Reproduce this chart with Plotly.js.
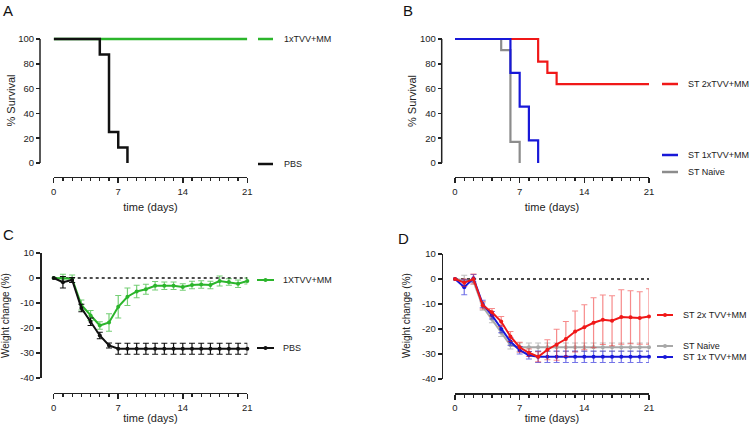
<!DOCTYPE html>
<html><head><meta charset="utf-8">
<script src="https://cdn.plot.ly/plotly-3.0.1.min.js"></script>
<style>html,body{margin:0;padding:0;background:#fff}#chart{width:750px;height:424px}</style>
</head><body><div id="chart"></div><script>
// ---- Panel A: survival ----
const daysA_PBS = [0, 5, 6, 7, 8];
const survA_PBS = [100, 87.5, 25, 12.5, 0];
const daysA_TVV = [0, 21];
const survA_TVV = [100, 100];
// ---- Panel B: survival ----
const daysB_2x = [0, 9, 10, 11, 21];
const survB_2x = [100, 81.8, 72.7, 63.6, 63.6];
const daysB_1x = [0, 6, 7, 8, 9];
const survB_1x = [100, 72.7, 45.5, 18.2, 0];
const daysB_naive = [0, 5, 6, 7];
const survB_naive = [100, 91, 17, 0];
// ---- Panels C, D: weight change ----
const days = [0,1,2,3,4,5,6,7,8,9,10,11,12,13,14,15,16,17,18,19,20,21];
const wC_TVV = [0, 0, -0.3, -10.8, -15, -19, -17.8, -11.5, -7.5, -5.4, -4.5, -3.1, -3.1, -3.1, -3.6, -2.8, -2.6, -2.8, -1.2, -1.6, -2.3, -1.2];
const eC_TVV = [0, 1.5, 1.5, 2, 2, 1.5, 3.5, 4.5, 3.5, 2.5, 2, 1.7, 1.5, 1.5, 1.3, 1.5, 1.5, 1.5, 2, 1.3, 1.5, 1.2];
const wC_PBS = [0, -1.7, -0.8, -12, -17.5, -23, -27, -28.3, -28.3, -28.3, -28.3, -28.3, -28.3, -28.3, -28.3, -28.3, -28.3, -28.3, -28.3, -28.3, -28.3, -28.3];
const eC_PBS = [0, 2.3, 1, 1.5, 1.5, 1.3, 1, 2.2, 2.2, 2.2, 2.2, 2.2, 2.2, 2.2, 2.2, 2.2, 2.2, 2.2, 2.2, 2.2, 2.2, 2.2];
const wD_2x = [0, -1.5, 0, -10.5, -13.3, -17, -23, -27.3, -29.5, -31.1, -28.3, -26.3, -24, -21, -19.3, -17.5, -16.3, -16.7, -15.2, -15.3, -15.6, -15];
const eD_2x = [0, 1.5, 2, 1.5, 1.5, 2, 2, 2, 1.5, 2, 4, 6.2, 7, 8.2, 9, 10, 9.9, 10, 10.9, 10.6, 10.5, 11.1];
const wD_naive = [0, -0.5, -1, -11, -16, -21.5, -26.5, -27.3, -27.3, -27.3, -27.3, -27.3, -27.3, -27.3, -27.3, -27.3, -27.3, -27.3, -27.3, -27.3, -27.3, -27.3];
const eD_naive = [0, 2, 1, 1.5, 1.5, 1.5, 1.5, 1.7, 1.7, 1.7, 1.7, 1.7, 1.7, 1.7, 1.7, 1.7, 1.7, 1.7, 1.7, 1.7, 1.7, 1.7];
const wD_1x = [0, -3.3, 0.3, -10, -14.5, -20, -25, -28.5, -30.5, -31.1, -31.1, -31.1, -31.1, -31.1, -31.1, -31.1, -31.1, -31.1, -31.1, -31.1, -31.1, -31.1];
const eD_1x = [0, 3, 1.5, 1.5, 1.5, 1.5, 1.5, 1.5, 1.5, 2.3, 2.3, 2.3, 2.3, 2.3, 2.3, 2.3, 2.3, 2.3, 2.3, 2.3, 2.3, 2.3];

const xTicks = [0, 7, 14, 21];
const survTicks = [0, 20, 40, 60, 80, 100];
const weightTicks = [-40, -30, -20, -10, 0, 10];
const weightTickText = ['-40', '-30', '-20', '-10', '0', '10'];

const GREEN = '#2bb52b', BLACK = '#111111', RED = '#f01818', BLUE = '#1818d8', GREY_B = '#8c8c8c', GREY_D = '#a8a8a8';
const FONT = 'Liberation Sans, Arial, sans-serif';
const AX = '#222';
const W = 750, H = 424;
const X = px => px / W;
const Y = py => 1 - py / H;

function surv(x, y, color, xa, ya, w) {
  return {x, y, xaxis: xa, yaxis: ya, mode: 'lines', cliponaxis: false, showlegend: false,
          line: {shape: 'hv', color, width: w}, hoverinfo: 'skip'};
}
function weight(x, y, e, color, ecolor, xa, ya) {
  return {x, y, xaxis: xa, yaxis: ya, mode: 'lines+markers', cliponaxis: false, showlegend: false,
          line: {color, width: 2}, marker: {color, size: 4},
          error_y: {type: 'data', array: e, visible: true, color: ecolor, thickness: 1.2, width: 3}};
}

const traces = [
  surv(daysA_TVV, survA_TVV, GREEN, 'x', 'y', 2.5),
  surv(daysA_PBS, survA_PBS, BLACK, 'x', 'y', 2.5),
  surv(daysB_2x, survB_2x, RED, 'x2', 'y2', 2.2),
  surv(daysB_naive, survB_naive, GREY_B, 'x2', 'y2', 2.2),
  surv(daysB_1x, survB_1x, BLUE, 'x2', 'y2', 2.2),
  weight(days, wC_TVV, eC_TVV, GREEN, 'rgba(43,181,43,0.65)', 'x3', 'y3'),
  weight(days, wC_PBS, eC_PBS, BLACK, BLACK, 'x3', 'y3'),
  weight(days, wD_naive, eD_naive, GREY_D, 'rgba(150,150,150,0.6)', 'x4', 'y4'),
  weight(days, wD_1x, eD_1x, BLUE, 'rgba(24,24,216,0.6)', 'x4', 'y4'),
  weight(days, wD_2x, eD_2x, RED, 'rgba(240,24,24,0.5)', 'x4', 'y4'),
];

function xAxis(dom, pos) {
  return {domain: dom, range: [0, 21], anchor: 'free', position: pos,
    tickvals: xTicks, ticks: 'outside', ticklen: 5, tickwidth: 1.5, tickcolor: AX,
    showline: true, linewidth: 1.5, linecolor: AX, showgrid: false, zeroline: false,
    minor: {ticks: 'outside', tick0: 0, dtick: 1, ticklen: 3, tickwidth: 1.2, tickcolor: AX, showgrid: false},
    tickfont: {family: FONT, size: 9.5, color: AX},
    title: {text: 'time (days)', font: {family: FONT, size: 11, color: AX}, standoff: 7}};
}
function yAxis(dom, pos, range, tv, tt, showline) {
  return {domain: dom, range, anchor: 'free', position: pos,
    tickvals: tv, ticktext: tt, ticks: 'outside', ticklen: 4, tickwidth: 1.5, tickcolor: AX,
    showline, linewidth: 1.5, linecolor: AX, showgrid: false, zeroline: false,
    tickfont: {family: FONT, size: 9.5, color: AX}};
}

const domXL = [X(53.7), X(247.3)], domXR = [X(455), X(649)];
// survival axes: pad range by 2 units (2.48 px) so the 0 and 100 lines are not clipped
const survPad = 2, pxPerUnit = 124 / 100;
const domYS = [Y(163 + survPad * pxPerUnit), Y(39 - survPad * pxPerUnit)];
const layout = {
  width: W, height: H, margin: {l: 0, r: 0, t: 0, b: 0},
  paper_bgcolor: '#fff', plot_bgcolor: 'rgba(0,0,0,0)', showlegend: false,
  font: {family: FONT},
  xaxis: xAxis(domXL, Y(176.7)),
  yaxis: yAxis(domYS, X(40), [-survPad, 100 + survPad], survTicks, survTicks.map(String), false),
  xaxis2: xAxis(domXR, Y(176.7)),
  yaxis2: yAxis(domYS, X(441.7), [-survPad, 100 + survPad], survTicks, survTicks.map(String), false),
  xaxis3: xAxis(domXL, Y(392.7)),
  yaxis3: yAxis([Y(378), Y(253)], X(40), [-40, 10], weightTicks, weightTickText, true),
  xaxis4: xAxis(domXR, Y(393)),
  yaxis4: yAxis([Y(379), Y(254)], X(441.7), [-40, 10], weightTicks, weightTickText, true),
  shapes: [], annotations: []
};

// survival y-axis lines spanning exactly 0..100
layout.shapes.push({type: 'line', xref: 'paper', yref: 'y', x0: X(40), x1: X(40), y0: 0, y1: 100, line: {color: AX, width: 1.5}});
layout.shapes.push({type: 'line', xref: 'paper', yref: 'y2', x0: X(441.7), x1: X(441.7), y0: 0, y1: 100, line: {color: AX, width: 1.5}});

// dotted zero lines
layout.shapes.push({type: 'line', xref: 'x3', yref: 'y3', x0: 0, x1: 21.3, y0: 0, y1: 0, line: {color: '#111', width: 1.3, dash: 'dot'}, layer: 'below'});
layout.shapes.push({type: 'line', xref: 'x4', yref: 'y4', x0: 0, x1: 21, y0: 0, y1: 0, line: {color: '#111', width: 1.3, dash: 'dot'}, layer: 'below'});

// y-axis titles
[['% Survival', 10.5, 101, 11], ['% Survival', 412, 101, 11],
 ['Weight change (%)', 5, 316, 10], ['Weight change (%)', 406, 316, 10]].forEach(([t, px, py, s]) => {
  layout.annotations.push({xref: 'paper', yref: 'paper', x: X(px), y: Y(py), xanchor: 'center', yanchor: 'middle', textangle: -90,
    showarrow: false, text: t, font: {family: FONT, size: s, color: AX}});
});

// legends (GraphPad style, next to each series)
function legend(x0, x1, tx, py, color, label, marker) {
  layout.shapes.push({type: 'line', xref: 'paper', yref: 'paper', x0: X(x0), x1: X(x1), y0: Y(py), y1: Y(py), line: {color, width: marker ? 2 : 2.5}});
  if (marker) {
    const cx = (x0 + x1) / 2;
    layout.shapes.push({type: 'circle', xref: 'paper', yref: 'paper', x0: X(cx - 2), x1: X(cx + 2), y0: Y(py + 2), y1: Y(py - 2), fillcolor: color, line: {color, width: 0}});
  }
  layout.annotations.push({xref: 'paper', yref: 'paper', x: X(tx), y: Y(py), xanchor: 'left', yanchor: 'middle', showarrow: false,
    text: label, font: {family: FONT, size: 9, color: AX}});
}
legend(258, 273, 282, 39, GREEN, '1xTVV+MM', false);
legend(258, 273, 282, 164, BLACK, 'PBS', false);
legend(662, 678, 686, 84, RED, 'ST 2xTVV+MM', false);
legend(662, 678, 686, 155, BLUE, 'ST 1xTVV+MM', false);
legend(662, 678, 686, 172, GREY_B, 'ST Naive', false);
legend(257, 274, 281, 280, GREEN, '1XTVV+MM', true);
legend(257, 274, 281, 348, BLACK, 'PBS', true);
legend(657, 673, 681, 315, RED, 'ST 2x TVV+MM', true);
legend(657, 673, 681, 346, GREY_D, 'ST Naive', true);
legend(657, 673, 681, 357, BLUE, 'ST 1x TVV+MM', true);

// panel letters
[['A', 8, 9], ['B', 408, 9], ['C', 8, 233], ['D', 403, 237]].forEach(([t, px, py]) => {
  layout.annotations.push({xref: 'paper', yref: 'paper', x: X(px), y: Y(py + 1), xanchor: 'center', yanchor: 'middle', showarrow: false,
    text: t, font: {family: FONT, size: 15, color: '#111'}});
});

Plotly.newPlot('chart', traces, layout, {staticPlot: true, displayModeBar: false});
</script></body></html>
